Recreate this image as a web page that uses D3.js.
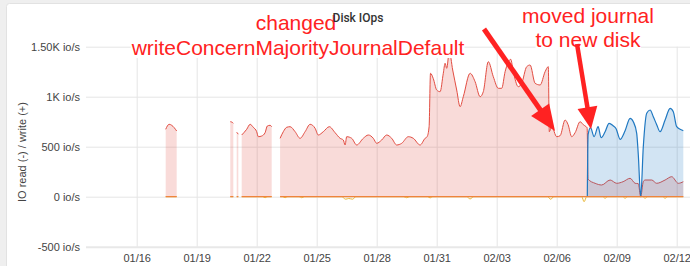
<!DOCTYPE html>
<html><head><meta charset="utf-8">
<script src="https://cdn.jsdelivr.net/npm/d3@7"></script>
<style>
html,body{margin:0;padding:0;background:#efefef;overflow:hidden;}
svg{display:block;}
</style></head><body>
<svg id="chart" width="690" height="266"></svg>
<script>
// ---------------- DATA ----------------
const startDay = "2020/01/16";               // day offsets below are counted from this date
const xTickLabels = ["01/16","01/19","01/22","01/25","01/28","01/31","02/03","02/06","02/09","02/12"];
const xTickYear = ["2020","2020","2020","2020","2020","2020","2020","2020","2020","2020"];
const yTickValues = [-500, 0, 500, 1000, 1500];
const yTickLabels = ["-500 io/s","0 io/s","500 io/s","1K io/s","1.50K io/s"];

// write, old disk (red)
const writeOldDays = [
  1.45,1.62,1.75,2.00,2.04,
  4.68,4.77,4.83,4.90,
  5.00,5.08,5.13,
  5.25,5.50,5.67,5.83,6.00,6.08,6.25,6.42,6.53,6.67,6.75,7.00,
  7.17,7.33,7.50,7.67,7.92,8.17,8.42,8.67,8.92,9.08,9.33,9.63,9.92,10.17,10.33,10.42,10.50,10.75,
  11.00,11.33,11.58,11.83,12.00,12.25,12.50,12.75,13.00,13.25,13.58,13.83,14.17,14.42,14.52,14.62,
  14.69,14.83,15.00,15.17,15.33,15.42,15.50,15.63,15.80,16.00,16.17,16.33,16.67,16.92,17.17,17.33,
  17.58,17.83,18.08,18.25,18.42,18.70,18.83,19.08,19.25,19.50,19.67,19.92,20.17,20.42,20.58,
  20.63,20.75,21.00,21.17,21.42,21.57,21.75,21.92,22.17,22.33,22.47,22.52,
  22.57,22.92,23.25,23.67,24.00,24.32,24.67,24.92,25.08,25.20,25.33,25.42,25.75,26.00,26.42,26.75,27.08,27.33
];
const writeOldVals = [
  674,724,714,657,null,
  750,745,734,null,
  645,625,null,
  617,674,724,694,650,600,607,640,707,714,700,null,
  584,650,694,700,650,584,650,724,684,617,650,700,640,584,567,517,600,584,
  517,584,617,584,534,567,617,584,517,534,600,584,517,584,600,700,
  1234,1180,1067,1050,1234,1334,1284,1450,1267,1067,900,1000,1234,1150,1000,1050,
  1350,1200,1084,1084,1250,1374,1250,1100,1134,1300,1317,1134,1117,1250,1300,
  650,700,600,610,767,720,600,640,750,720,700,690,
  175,134,117,167,134,150,184,134,130,0,150,167,167,134,167,200,134,150
];

// write, new disk (blue)
const writeNewDays = [22.53,22.57,22.69,22.87,23.07,23.22,23.42,23.62,23.82,23.97,24.17,24.42,24.67,24.83,
  25.00,25.08,25.20,25.33,25.50,25.67,25.83,26.00,26.17,26.42,26.67,26.83,27.00,27.25,27.33];
const writeNewVals = [0,620,690,600,700,590,650,734,710,680,574,660,784,750,
  634,420,0,500,834,867,800,720,650,767,884,850,700,667,660];

// read (yellow, plotted negative)
const readDays = [
  1.45,2.00,2.04, 4.68,4.83,4.90, 5.00,5.08,5.13,
  5.25,6.30,6.42,6.55,6.75,7.00,
  7.17,7.30,7.42,7.55,8.12,8.25,8.38,10.25,10.45,10.60,10.80,10.95,13.35,13.50,13.65,
  14.55,14.67,14.80,16.50,16.67,16.85,20.55,20.70,20.85,22.25,22.37,22.50,
  23.30,23.42,23.55,24.30,24.42,24.55,25.30,25.42,25.55,26.30,26.42,26.55,27.33
];
const readVals = [
  0,0,null, 0,0,null, 0,0,null,
  0,0,-10,0,0,null,
  0,0,-10,0,0,-10,0,0,-25,-18,-25,0,0,-10,0,
  0,-12,0,0,-22,0,0,-26,0,0,-50,0,
  0,-15,0,0,-15,0,0,-15,0,0,-15,0,0
];

// read, other disk (orange, flat)
const readOtherDays = [1.45,2.00,2.04,4.68,4.83,4.90,5.00,5.08,5.13,5.25,6.75,7.00,7.17,27.33];
const readOtherVals = [0,0,null,0,0,null,0,0,null,0,0,null,0,0];

const chartTitle = "Disk IOps";
const yAxisTitle = "IO read (-) / write (+)";
const note1 = ["changed", "writeConcernMajorityJournalDefault"];
const note2 = ["moved journal", "to new disk"];

// ---------------- CHART ----------------
const W = 690, H = 266;
const plotLeft = 86, plotRight = 690, plotTop = 46.7, plotBottom = 246.7;
const parseDay = d3.timeParse("%Y/%m/%d");
const t0 = parseDay(startDay).getTime();
const toDate = d => new Date(t0 + d * 864e5);

const svg = d3.select("#chart");
svg.append("rect").attr("x",0).attr("y",0).attr("width",W).attr("height",H).attr("fill","#efefef");
svg.append("rect").attr("x",6.5).attr("y",3.5).attr("width",W+10).attr("height",H+10)
   .attr("rx",3).attr("fill","#ffffff").attr("stroke","#e2e2e2");

const x = d3.scaleTime().domain([toDate(-2.535), toDate(27.665)]).range([plotLeft, plotRight]);
const y = d3.scaleLinear().domain([-500, 1500]).range([plotBottom, plotTop]);

const font = "'Liberation Sans', Arial, sans-serif";

// y axis + horizontal grid
const yAxis = d3.axisLeft(y).tickValues(yTickValues)
  .tickFormat((d,i) => yTickLabels[i]).tickSize(-(plotRight - plotLeft)).tickPadding(6);
const gy = svg.append("g").attr("transform", `translate(${plotLeft},0)`).call(yAxis);
gy.select(".domain").remove();
gy.selectAll("line").attr("stroke", "#e5e5e5");
gy.selectAll("text").attr("font-family", font).attr("font-size", 11).attr("fill", "#444");
gy.selectAll(".tick").filter(d => d === -500).select("line").attr("stroke-width", 2).attr("stroke","#e8e8e8");

// x axis + vertical grid
const xTickDates = xTickLabels.map((l,i) => parseDay(xTickYear[i] + "/" + l));
const xAxis = d3.axisBottom(x).tickValues(xTickDates)
  .tickFormat((d,i) => xTickLabels[i]).tickSize(-(plotBottom - plotTop)).tickPadding(7.5);
const gx = svg.append("g").attr("transform", `translate(0,${plotBottom})`).call(xAxis);
gx.select(".domain").remove();
gx.selectAll("line").attr("stroke", "#e5e5e5");
gx.selectAll("text").attr("font-family", font).attr("font-size", 11).attr("fill", "#444");

// y title
svg.append("text").attr("transform", "translate(26,152) rotate(-90)")
  .attr("text-anchor", "middle").attr("font-family", font).attr("font-size", 11)
  .attr("fill", "#444").text(yAxisTitle);

// data
svg.append("clipPath").attr("id","clip").append("rect")
  .attr("x", plotLeft).attr("y", 0).attr("width", plotRight - plotLeft).attr("height", H);
const gd = svg.append("g").attr("clip-path", "url(#clip)");

function series(days, vals) {
  return days.map((d,i) => ({t: toDate(d), v: vals[i]}));
}
const curve = d3.curveMonotoneX;
const area = d3.area().defined(p => p.v !== null).curve(curve)
  .x(p => x(p.t)).y0(y(0)).y1(p => y(p.v));
const line = d3.line().defined(p => p.v !== null).curve(curve)
  .x(p => x(p.t)).y(p => y(p.v));

const sOld = series(writeOldDays, writeOldVals);
const sNew = series(writeNewDays, writeNewVals);
const sRead = series(readDays, readVals);
const sReadO = series(readOtherDays, readOtherVals);

const red = "#E24D42", blue = "#1F78C1";
gd.append("path").datum(sOld).attr("d", area).attr("fill", red).attr("fill-opacity", 0.2);
gd.append("path").datum(sOld).attr("d", line).attr("fill", "none").attr("stroke", red).attr("stroke-width", 1);
gd.append("path").datum(sNew).attr("d", area).attr("fill", blue).attr("fill-opacity", 0.2);
gd.append("path").datum(sNew).attr("d", line).attr("fill", "none").attr("stroke", blue).attr("stroke-width", 1.2);
gd.append("path").datum(sRead).attr("d", line).attr("fill", "none").attr("stroke", "#EAB839").attr("stroke-width", 1);
gd.append("path").datum(sReadO).attr("d", line).attr("fill", "none").attr("stroke", "#EF843C").attr("stroke-width", 1.2);

// annotations
const annoColor = "#ff2222";
function note(txt, cx, by, box) {
  const t = svg.append("text").attr("x", cx).attr("y", by).attr("text-anchor", "middle")
    .attr("font-family", font).attr("font-size", 21).attr("fill", annoColor).text(txt);
  if (box) {
    const b = t.node().getBBox();
    svg.insert("rect", () => t.node()).attr("x", b.x).attr("y", b.y + 2)
      .attr("width", b.width).attr("height", b.height - 3).attr("fill", "#fff");
  }
}
note(note1[0], 296, 30, false);
note(note1[1], 298, 55, true);
note(note2[0], 588, 23, true);
note(note2[1], 588, 47, true);

// title (drawn above the notes)
svg.append("text").attr("x", 358).attr("y", 22).attr("text-anchor", "middle")
  .attr("font-family", "Roboto, sans-serif").attr("font-weight", 500).attr("font-size", 12)
  .attr("fill", "#333").text(chartTitle);

function arrow(x1, y1, x2, y2, hl, hw, w) {
  const dx = x2 - x1, dy = y2 - y1, L = Math.hypot(dx, dy);
  const ux = dx / L, uy = dy / L;
  const bx = x2 - ux * hl, by = y2 - uy * hl;
  svg.append("line").attr("x1", x1).attr("y1", y1).attr("x2", bx + ux * 2).attr("y2", by + uy * 2)
    .attr("stroke", annoColor).attr("stroke-width", w);
  const px = -uy, py = ux;
  svg.append("polygon").attr("points",
    [[x2, y2], [bx + px * hw, by + py * hw], [bx - px * hw, by - py * hw]].map(p => p.join(",")).join(" "))
    .attr("fill", annoColor);
}
arrow(484, 29, 555, 131, 26, 11, 5);
arrow(577, 44, 591, 129, 22, 10, 4.5);
</script>
</body></html>
